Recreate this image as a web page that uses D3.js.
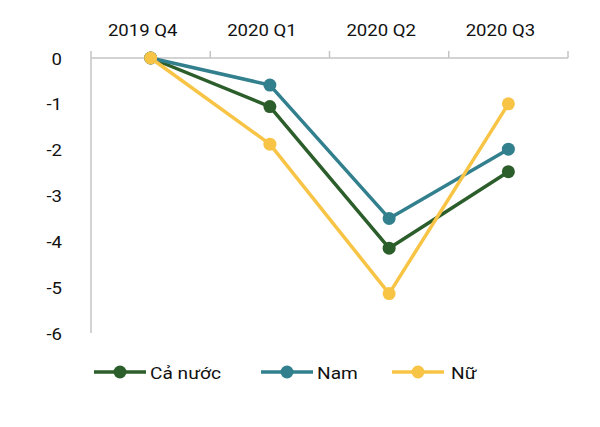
<!DOCTYPE html>
<html><head><meta charset="utf-8">
<script src="https://cdn.jsdelivr.net/npm/d3@7"></script>
<style>body{margin:0;background:#fff}svg{display:block}text{font-family:Roboto,"Liberation Sans",Arial,sans-serif}</style>
</head><body><svg id="c" width="600" height="427"></svg>
<script>
const categories = ["2019 Q4","2020 Q1","2020 Q2","2020 Q3"];
const seriesNames = ["Cả nước","Nam","Nữ"];
const caNuoc = [0,-1.06,-4.15,-2.48];
const nam = [0,-0.59,-3.5,-1.99];
const nu = [0,-1.88,-5.14,-1.0];
const yTicks = [0,-1,-2,-3,-4,-5,-6];
const colors = ["#2c5e2b","#327f8d","#f8c446"];

const SX = 1.16; // horizontal text stretch seen in the reference
const series = [caNuoc, nam, nu];
const svg = d3.select("#c");
const x = d3.scaleBand().domain(categories).range([91,568]);
const y = d3.scaleLinear().domain([0,-6]).range([58,333]);
const cx = c => x(c) + x.bandwidth()/2;

// y axis line
svg.append("line").attr("x1",91).attr("x2",91).attr("y1",y(0)).attr("y2",y(-6)).attr("stroke","#c4c4c4").attr("stroke-width",1.5);
// y tick labels
svg.append("g").selectAll("text").data(yTicks).join("text")
  .attr("transform",d=>`translate(62,${y(d)+1}) scale(${SX},1)`)
  .attr("dy","0.35em").attr("text-anchor","end")
  .attr("font-size",16).attr("fill","#111").text(d=>d===0?"0":"-"+Math.abs(d));

// top x axis
svg.append("line").attr("x1",91).attr("x2",568).attr("y1",y(0)).attr("y2",y(0)).attr("stroke","#c4c4c4").attr("stroke-width",1.5);
const bounds = categories.map(c=>x(c)).concat([x.range()[1]]);
svg.append("g").selectAll("line").data(bounds).join("line")
  .attr("x1",d=>d).attr("x2",d=>d).attr("y1",y(0)-7).attr("y2",y(0)).attr("stroke","#c4c4c4").attr("stroke-width",1.5);
svg.append("g").selectAll("text").data(categories).join("text")
  .attr("transform",d=>`translate(${cx(d)-8},${y(0)-28}) scale(${SX},1)`)
  .attr("dy","0.35em").attr("text-anchor","middle")
  .attr("font-size",16).attr("fill","#111").text(d=>d);

const line = d3.line().x((d,i)=>cx(categories[i])).y(d=>y(d));
series.forEach((s,k)=>{
  const g = svg.append("g");
  g.append("path").attr("d",line(s)).attr("fill","none").attr("stroke",colors[k]).attr("stroke-width",3.5).attr("stroke-linejoin","round");
  g.selectAll("circle").data(s).join("circle")
    .attr("cx",(d,i)=>cx(categories[i])).attr("cy",d=>y(d)).attr("r",6.5).attr("fill",colors[k]);
});

// legend
const legX = [94,261,392];
const legT = [150,317,451];
const lg = svg.append("g");
seriesNames.forEach((n,k)=>{
  const lx = legX[k], ly = 372;
  lg.append("line").attr("x1",lx).attr("x2",lx+52).attr("y1",ly).attr("y2",ly).attr("stroke",colors[k]).attr("stroke-width",3.5);
  lg.append("circle").attr("cx",lx+26).attr("cy",ly).attr("r",6.5).attr("fill",colors[k]);
  lg.append("text").attr("transform",`translate(${legT[k]},${ly+1}) scale(${SX},1)`)
    .attr("dy","0.35em").attr("font-size",16.5).attr("fill","#111").text(n);
});
</script></body></html>
